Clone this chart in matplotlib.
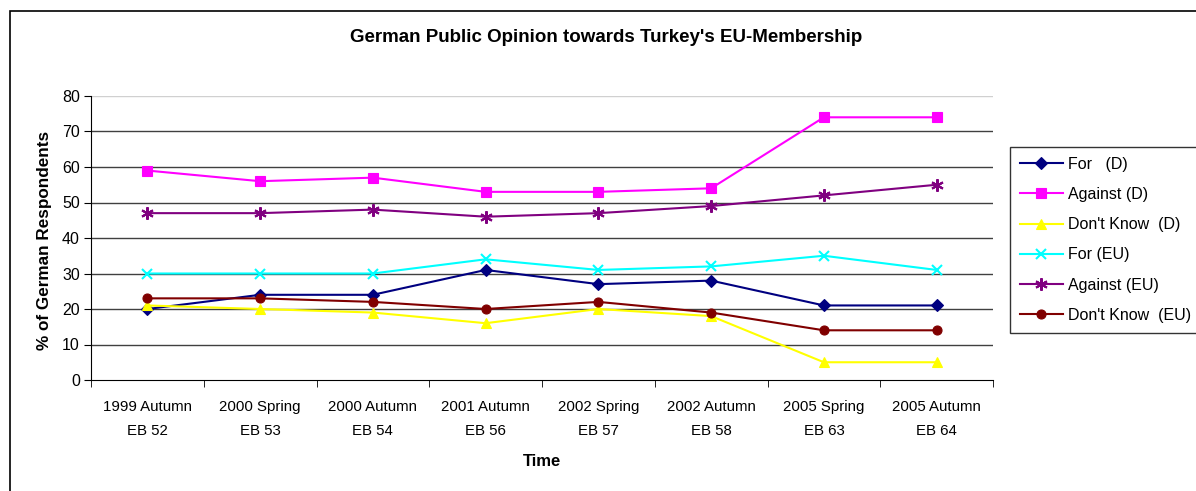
import matplotlib
matplotlib.use("Agg")
import matplotlib.pyplot as plt
from matplotlib.patches import Rectangle
import numpy as np

plt.rcParams["font.family"] = ["Liberation Sans", "DejaVu Sans"]

categories = ["1999 Autumn\nEB 52", "2000 Spring\nEB 53", "2000 Autumn\nEB 54",
              "2001 Autumn\nEB 56", "2002 Spring\nEB 57", "2002 Autumn\nEB 58",
              "2005 Spring\nEB 63", "2005 Autumn\nEB 64"]
for_d = [20, 24, 24, 31, 27, 28, 21, 21]
against_d = [59, 56, 57, 53, 53, 54, 74, 74]
dontknow_d = [21, 20, 19, 16, 20, 18, 5, 5]
for_eu = [30, 30, 30, 34, 31, 32, 35, 31]
against_eu = [47, 47, 48, 46, 47, 49, 52, 55]
dontknow_eu = [23, 23, 22, 20, 22, 19, 14, 14]
yticks = [0, 10, 20, 30, 40, 50, 60, 70, 80]

series = [
    ("For   (D)", for_d, "#000080", "D", 6),
    ("Against (D)", against_d, "#FF00FF", "s", 6.5),
    ("Don't Know  (D)", dontknow_d, "#FFFF00", "^", 7.5),
    ("For (EU)", for_eu, "#00FFFF", "x", 7),
    ("Against (EU)", against_eu, "#800080", (6, 2, 0), 9),
    ("Don't Know  (EU)", dontknow_eu, "#800000", "o", 6.5),
]

W, H = 1196, 491
fig = plt.figure(figsize=(W / 100, H / 100), dpi=100)
ax = fig.add_axes([91 / W, 1 - 380 / H, 902 / W, 284 / H])

x = np.arange(len(categories))
handles = []
for label, vals, color, marker, ms in series:
    (h,) = ax.plot(x, vals, color=color, marker=marker, markersize=ms,
                   markeredgewidth=1.5 if marker in ("x", (6, 2, 0)) else 0.8,
                   markeredgecolor=color, linewidth=1.5, label=label, zorder=3)
    handles.append(h)

ax.set_xlim(-0.5, len(categories) - 0.5)
ax.set_ylim(0, 80)
ax.set_yticks(yticks)
ax.tick_params(axis="y", direction="out", length=5, labelsize=11.5, pad=3)
ax.set_xticks(x)
ax.set_xticklabels(categories, fontsize=10.8, linespacing=1.9)
ax.set_xticks(np.arange(-0.5, len(categories)), minor=True)
ax.tick_params(axis="x", which="major", length=0, pad=14.5)
ax.tick_params(axis="x", which="minor", direction="out", length=5)

for v in yticks[1:]:
    ax.axhline(v, color="#d0d0d0" if v == 80 else "#404040", linewidth=1, zorder=1)

for side in ("top", "right"):
    ax.spines[side].set_visible(False)
ax.spines["left"].set_color("black")
ax.spines["bottom"].set_color("black")

fig.text(606 / W, 1 - 38 / H, "German Public Opinion towards Turkey's EU-Membership",
         ha="center", va="center", fontsize=13.5, fontweight="bold")
fig.text(45 / W, 1 - 240 / H, "% of German Respondents", rotation=90,
         ha="center", va="center", fontsize=12.3, fontweight="bold")
fig.text(542 / W, 1 - 462 / H, "Time", ha="center", va="center",
         fontsize=12, fontweight="bold")

leg = fig.legend(handles=handles, loc="upper left",
                 bbox_to_anchor=(1010 / W, 1 - 147 / H), fontsize=11.5,
                 frameon=True, fancybox=False, edgecolor="black",
                 handlelength=2.7, labelspacing=0.95, borderpad=0.62,
                 handletextpad=0.3, borderaxespad=0)
leg.get_frame().set_linewidth(1)

fig.add_artist(Rectangle((10 / W, -0.05), 1.2, 1 - 11 / H + 0.05,
                         transform=fig.transFigure, fill=False,
                         edgecolor="black", linewidth=1.2))

fig.savefig("out.png", dpi=100)
